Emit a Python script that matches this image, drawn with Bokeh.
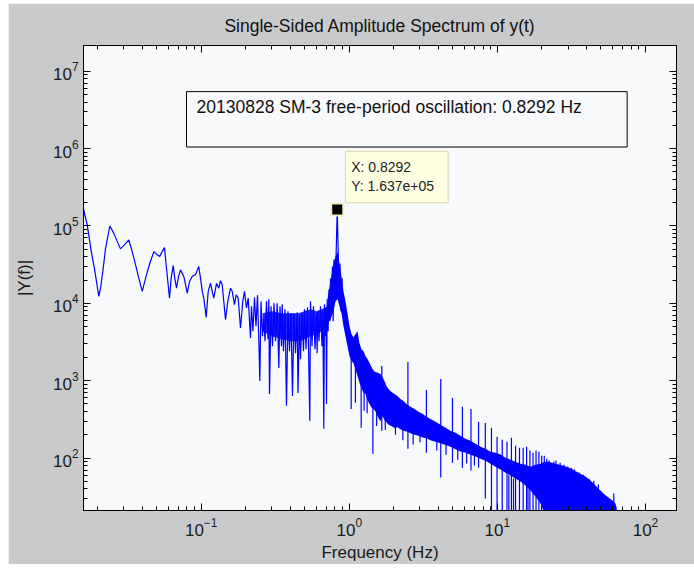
from bokeh.plotting import figure
from bokeh.models import (LogAxis, FixedTicker, BoxAnnotation, Label, Range1d, Spacer,
                          CustomJSTickFormatter)
from bokeh.layouts import column, row
from bokeh.embed import file_html
from bokeh.resources import INLINE

FONT = "Liberation Sans"
FIG_BG = "#c9cacc"
AX_BG = "#f8f9fb"
BLUE = "#0000ff"

# ---------------- data ----------------
line_freq = [0.0161, 0.0170, 0.0174, 0.0181, 0.0190, 0.02035, 0.0209, 0.02166, 0.0226, 0.02415,
             0.0257, 0.0285, 0.0303, 0.03245, 0.0342, 0.0356, 0.0379, 0.0400, 0.0421, 0.0450,
             0.0479, 0.0505, 0.0525, 0.0545, 0.0565, 0.0583, 0.0595, 0.0611, 0.0627, 0.0647,
             0.0663, 0.0681, 0.0703, 0.0725, 0.0763, 0.0805, 0.0834, 0.0869, 0.0915, 0.0963,
             0.0989, 0.1016, 0.1041, 0.1081, 0.1115, 0.1156, 0.1187, 0.1216, 0.1269, 0.1315,
             0.1350, 0.1386, 0.1421, 0.1459, 0.1512, 0.1577, 0.1619, 0.1678, 0.1723, 0.1777,
             0.1842, 0.1909, 0.1960, 0.2022, 0.2076, 0.2152,
             0.2185, 0.2237, 0.2290, 0.2344, 0.2399, 0.2456, 0.2487, 0.2534, 0.2594, 0.2647,
             0.2697, 0.2760, 0.2826, 0.2861, 0.2892, 0.2960, 0.3030, 0.3101, 0.3175, 0.3260,
             0.3342, 0.3405, 0.3485, 0.3523, 0.3595, 0.3680, 0.3767, 0.3855, 0.3946, 0.4039,
             0.4135, 0.4232, 0.4332, 0.4448, 0.4504, 0.4610, 0.4683, 0.4793, 0.4906, 0.4983,
             0.5100, 0.5222, 0.5303, 0.5411, 0.5470, 0.5600, 0.5731, 0.5866, 0.6004, 0.6064,
             0.6127, 0.6243, 0.6390, 0.6540, 0.6630, 0.6726, 0.6799, 0.6906, 0.6960, 0.7015,
             0.7091, 0.7191, 0.7293, 0.7408, 0.7464,
             0.758, 0.770, 0.7784, 0.7882, 0.8006, 0.8157, 0.8292, 0.8430, 0.8548, 0.8654,
             0.8790, 0.8956]
line_amp = [1.61e5, 1.03e5, 7.66e4, 4.67e4, 2.85e4, 1.23e4, 1.57e4, 2.58e4, 5.15e4, 1.00e5,
            8.03e4, 5.06e4, 5.69e4, 6.60e4, 4.67e4, 3.47e4, 2.12e4, 1.43e4, 2.12e4, 3.30e4,
            4.67e4, 4.24e4, 4.03e4, 4.67e4, 5.26e4, 2.85e4, 1.92e4, 1.17e4, 2.12e4, 3.08e4,
            2.12e4, 1.57e4, 2.23e4, 2.71e4, 2.23e4, 1.36e4, 1.92e4, 2.23e4, 2.34e4, 2.99e4,
            2.12e4, 1.43e4, 1.17e4, 6.60e3, 1.43e4, 1.82e4, 1.43e4, 1.17e4, 1.82e4, 1.57e4,
            1.96e4, 1.74e4, 1.06e4, 6.17e3, 1.06e4, 1.57e4, 1.43e4, 9.62e3, 1.29e4, 1.17e4,
            4.81e3, 1.06e4, 1.43e4, 8.70e3, 1.17e4, 3.58e3,
            9.15e3, 4.36e3, 1.19e4, 5.06e3, 1.27e4, 2.80e3, 991, 1.06e4, 3.76e3, 6.41e3,
            3.24e3, 1.06e4, 3.44e3, 1.13e4, 674, 9.15e3, 2.80e3, 1.00e4, 3.24e3, 1.00e4,
            1.46e3, 9.15e3, 2.80e3, 9.70e3, 2.41e3, 8.37e3, 473, 7.89e3, 2.41e3, 7.43e3,
            636, 7.43e3, 2.27e3, 7.66e3, 695, 6.80e3, 1.90e3, 7.43e3, 2.41e3, 8.37e3,
            2.56e3, 8.88e3, 2.80e3, 303, 1.06e4, 2.80e3, 9.15e3, 2.56e3, 7.00e3, 2.27e3,
            7.89e3, 3.24e3, 9.15e3, 2.80e3, 8.00e3, 239, 9.70e3, 3.76e3, 8.50e3, 501,
            1.13e4, 4.36e3, 1.51e4, 5.87e3, 2.10e4,
            1.06e4, 2.99e4, 5.87e3, 3.68e4, 1.06e4, 4.67e4, 1.637e5, 4.03e4, 1.06e4, 3.27e4,
            7.89e3, 2.12e4]

# dense core of the trace between 0.26 and 0.71 Hz
core_freq = [0.2600, 0.3000, 0.3500, 0.4000, 0.4500, 0.5000, 0.5500, 0.6000, 0.6500, 0.7126]
core_upper = [7435, 7890, 7435, 7435, 7435, 7890, 8370, 7890, 8370, 9150]
core_lower = [4361, 3760, 3440, 3240, 3240, 3440, 3760, 4000, 4361, 5058]

# dense band of the trace above 0.71 Hz
band_freq = [0.7126, 0.7464, 0.7823, 0.8070, 0.8325, 0.8587, 0.8859, 0.9138, 0.9426, 0.9723,
             1.003, 1.035, 1.067, 1.101, 1.136, 1.171, 1.209, 1.247, 1.286, 1.327,
             1.369, 1.412, 1.457, 1.503, 1.574, 1.624, 1.675, 1.728, 1.783, 1.839,
             1.927, 2.019, 2.115, 2.216, 2.322, 2.433, 2.589, 2.755, 2.933, 3.121,
             3.321, 3.535, 3.819, 4.129, 4.462, 4.824, 5.212, 5.636, 6.090, 6.582,
             7.114, 7.690, 8.310, 8.982, 9.708, 10.49, 11.34, 12.26, 13.25, 14.32,
             15.48, 16.73, 18.08, 19.54, 20.80, 22.13, 24.68, 27.94, 31.64, 35.28,
             39.34, 42.52, 45.96, 49.67, 52.85, 56.25, 59.85, 62.70, 64.0]
band_upper = [11260, 19190, 32720, 40260, 46700, 32720, 22260, 14270, 10610, 7435,
              5058, 3990, 3651, 3990, 4361, 3056, 2559, 2412, 2080, 1902,
              1690, 1501, 1333, 1294, 1256, 1220, 1116, 991, 855, 782,
              715, 674, 636, 582, 548, 501, 459, 432, 396, 373,
              341, 321, 294, 269, 246, 225, 212, 194, 178, 167,
              153, 140, 132, 121, 117, 111, 101, 95.4, 89.9, 84.7,
              82.2, 77.5, 82.2, 84.7, 89.9, 89.9, 84.7, 79.8, 73.0, 64.8,
              57.6, 51.2, 44.1, 38.0, 33.8, 30.9, 28.3, 25.9, 22.3]
band_lower = [5529, 6225, 7890, 10610, 11260, 9150, 7435, 5058, 3761, 2796,
              2080, 1793, 1700, 1400, 1150, 950, 800, 700, 680, 560,
              500, 450, 430, 400, 330, 300, 350, 310, 290, 270,
              260, 245, 250, 235, 225, 220, 210, 200, 195, 185,
              180, 170, 162, 155, 148, 140, 130, 122, 118, 110,
              105, 98.2, 92.6, 84.7, 77.5, 70.9, 64.8, 59.3, 54.3, 49.7,
              44.1, 38.0, 31.8, 25.9, 19.8, 15, 15, 15, 15, 15,
              15, 15, 15, 15, 15, 15, 15, 15, 15]

spike_freq = [1.030, 1.100, 1.203, 1.259, 1.320, 1.443, 1.530, 1.658, 1.750, 2.050,
              2.300, 2.488, 2.700, 3.000, 3.317, 3.900, 4.146, 4.500, 4.975, 5.400,
              5.804, 6.200, 6.634, 7.000, 7.463, 8.292, 9.121, 9.950, 10.78, 11.61,
              11.95, 12.44, 12.85, 13.27, 14.10, 14.93, 15.75, 16.10, 16.58, 17.41,
              18.24, 19.07, 19.90, 20.73, 21.56, 22.39, 23.22, 24.05, 24.88, 26.53,
              28.19, 29.85, 31.51, 33.17, 35.66, 38.14, 41.46, 44.78, 48.09, 61.1]
spike_top = [3000, 1600, 2000, 2000, 1300, 1400, 900, 1546, 800, 600,
             520, 1741, 420, 380, 759, 260, 1052, 220, 599, 180,
             459, 160, 432, 140, 294, 285, 246, 189, 173, 163,
             60, 183, 55, 144, 136, 136, 140, 45, 125, 117,
             125, 121, 107, 107, 98, 93, 85, 90, 93, 87,
             82, 78, 75, 71, 65, 61, 54, 51, 45.5, 34.8]
spike_bottom = [432, 520, 246, 408, 380, 114, 260, 225, 230, 200,
                170, 132, 150, 160, 117, 125, 56, 110, 87, 95,
                75, 85, 69, 80, 75, 30, 15, 15, 15, 15,
                15, 15, 15, 15, 15, 15, 15, 15, 15, 15,
                15, 15, 15, 15, 15, 15, 15, 15, 15, 15,
                15, 15, 15, 15, 15, 15, 15, 15, 15, 15]

peak_freq = [0.8292]
peak_amp = [1.637e5]

x_major = [0.1, 1, 10, 100]
y_major = [1e2, 1e3, 1e4, 1e5, 1e6, 1e7]

title_text = "Single-Sided Amplitude Spectrum of y(t)"
note_text = "20130828 SM-3 free-period oscillation: 0.8292 Hz"
tip_x_text = "X: 0.8292"
tip_y_text = "Y: 1.637e+05"

# ---------------- figure ----------------
p = figure(width=686, height=561, x_axis_type="log", y_axis_type="log",
           x_range=Range1d(0.01604, 162.0), y_range=Range1d(21.0, 2.154e7),
           output_backend="svg", toolbar_location=None,
           min_border_left=75, min_border_right=18, min_border_top=40, min_border_bottom=54,
           background_fill_color=AX_BG, border_fill_color=FIG_BG,
           outline_line_color="black", outline_line_width=1)
p.grid.visible = False

p.title.text = title_text
p.title.align = "center"
p.title.standoff = 20
p.title.text_font = FONT
p.title.text_font_size = "17.5px"
p.title.text_font_style = "normal"
p.title.text_color = "#111111"

x_minor = [m * 10.0 ** e for e in range(-2, 3) for m in range(2, 10)]
y_minor = [m * 10.0 ** e for e in range(1, 7) for m in range(2, 10)]


def style(ax, major, minor, show):
    ax.ticker = FixedTicker(ticks=major, minor_ticks=minor)
    ax.major_tick_in = 7
    ax.major_tick_out = 0
    ax.minor_tick_in = 4
    ax.minor_tick_out = 0
    ax.axis_line_color = "black"
    ax.major_tick_line_color = "black"
    ax.minor_tick_line_color = "black"
    ax.major_label_text_font = FONT
    ax.major_label_text_color = "#1a1a1a"
    if show:
        ax.major_label_text_font_size = "17px"
        ax.major_label_standoff = 5
    else:
        ax.formatter = CustomJSTickFormatter(code="return ''")
        ax.major_label_text_font_size = "1px"
        ax.major_label_standoff = 0


style(p.xaxis[0], x_major, x_minor, True)
style(p.yaxis[0], y_major, y_minor, True)
p.xaxis[0].major_label_standoff = 7
p.xaxis[0].axis_label = "Frequency (Hz)"
p.yaxis[0].axis_label = "|Y(f)|"
for ax in (p.xaxis[0], p.yaxis[0]):
    ax.axis_label_text_font = FONT
    ax.axis_label_text_font_size = "17px"
    ax.axis_label_text_font_style = "normal"
    ax.axis_label_text_color = "#1a1a1a"
p.xaxis[0].axis_label_standoff = 4
p.yaxis[0].axis_label_standoff = 16

top_ax = LogAxis()
style(top_ax, x_major, x_minor, False)
p.add_layout(top_ax, "above")
right_ax = LogAxis()
style(right_ax, y_major, y_minor, False)
p.add_layout(right_ax, "right")

# ---------------- data marks ----------------
p.varea(x=core_freq, y1=core_lower, y2=core_upper, fill_color=BLUE, fill_alpha=0.85)
p.varea(x=band_freq, y1=band_lower, y2=band_upper, fill_color=BLUE, fill_alpha=1.0)
p.segment(x0=spike_freq, y0=spike_bottom, x1=spike_freq, y1=spike_top,
          line_color=BLUE, line_width=1.2)
p.line(line_freq, line_amp, line_color=BLUE, line_width=1.2)
p.scatter(peak_freq, peak_amp, marker="square", size=12, fill_color="black",
          line_color="#f3edc4", line_width=2)

# ---------------- annotations ----------------
p.add_layout(BoxAnnotation(left=0.0796, right=75.2, top=5.46e6, bottom=1.049e6,
                           fill_alpha=0.0, line_color="black", line_alpha=1.0,
                           line_width=1))
p.add_layout(Label(x=0.0930, y=3.43e6, text=note_text, text_baseline="middle",
                   text_font=FONT, text_font_size="17.5px", text_color="#111111"))

p.add_layout(BoxAnnotation(left=0.9425, right=4.65, top=9.23e5, bottom=1.995e5,
                           fill_color="#ffffe1", fill_alpha=1.0,
                           line_color="#dcd6ac", line_alpha=1.0, line_width=1))
p.add_layout(Label(x=1.030, y=5.80e5, text=tip_x_text, text_baseline="middle",
                   text_font=FONT, text_font_size="14px", text_color="#222222"))
p.add_layout(Label(x=1.030, y=3.27e5, text=tip_y_text, text_baseline="middle",
                   text_font=FONT, text_font_size="14px", text_color="#222222"))

layout = column(Spacer(height=3), row(Spacer(width=8), p))
open("out.html", "w").write(file_html(layout, INLINE))
